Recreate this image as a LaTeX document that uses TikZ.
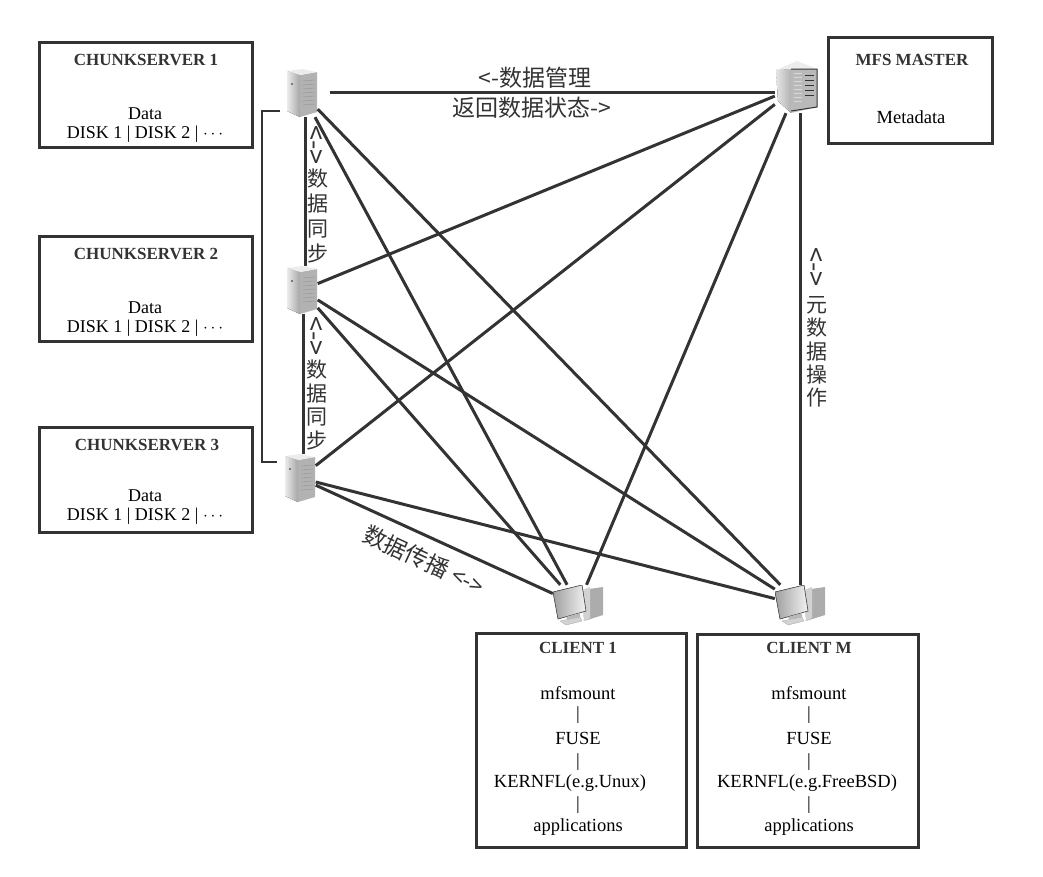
\documentclass[tikz,border=0pt]{standalone}
\usepackage{fontspec}
\setmainfont{Liberation Serif}
\newfontfamily\cjk{Noto Sans CJK SC}
\usetikzlibrary{positioning}
\definecolor{inkc}{gray}{0.2}
\tikzset{
    %box round one machine
    wn/.style={draw=inkc, line width=3pt, fill=white, shape=rectangle, inner sep=0pt},
    ttl/.style={font=\fontsize{17}{19}\selectfont\bfseries, text=inkc, inner sep=0pt},
    txt/.style={font=\fontsize{18.5}{19}\selectfont, text=black, inner sep=0pt, align=center},
    disk/.style={txt, font=\fontsize{18}{19}\selectfont},
    cn/.style={font=\cjk\fontsize{23}{26}\selectfont, text=inkc, inner sep=0pt},
    cnv/.style={cn, align=center, font=\cjk\fontsize{21}{#1}\selectfont},
    cna/.style={cn, rotate=-90, font=\cjk\fontsize{27}{27}\selectfont},
    link/.style={draw=inkc, line width=3pt},
    srv/.style={shape=rectangle, inner sep=0pt, minimum width=31pt, minimum height=48pt,
      path picture={
        \begin{scope}[shift={(path picture bounding box.center)}]
          \fill[left color=gray!15, right color=gray!70] (-15,-22) -- (-2,-18) -- (-2,24) -- (-15,18) -- cycle;
          \fill[gray!60] (-2,-18) -- (15,-21) -- (15,19) -- (-2,24) -- cycle;
          \fill[gray!15] (-15,-22) -- (0,-24) -- (15,-21) -- (-2,-18) -- cycle;
          \foreach \k in {-12,-8,...,14} \draw[gray!80, line width=0.5pt] (1,\k) -- (13,\k-1);
          \fill[gray!70!black] (-10,-9) circle (1.2);
        \end{scope}}},
    mst/.style={shape=rectangle, inner sep=0pt, minimum width=44pt, minimum height=52pt,
      path picture={
        \begin{scope}[shift={(path picture bounding box.center)}]
          \fill[left color=gray!20, right color=gray!60] (-21,-17) -- (-6,-18) -- (-6,26) -- (-19,14) -- cycle;
          \fill[gray!55] (-6,-18) -- (20,-18) -- (20,20) -- (-6,26) -- cycle;
          \fill[gray!15] (-21,-17) -- (0,-26) -- (20,-18) -- (-6,-18) -- cycle;
          \draw[inkc, line width=1pt] (-6,-18) -- (20,-18) -- (20,20) -- (-6,24);
          \foreach \k in {-12,-7,...,8} \draw[inkc, line width=1pt] (8,\k) -- (17,\k);
          \foreach \k in {-14,-10,...,16} \draw[gray!30, line width=0.5pt] (-3,\k) -- (5,\k);
        \end{scope}}},
    clnt/.style={shape=rectangle, inner sep=0pt, minimum width=50pt, minimum height=40pt,
      path picture={
        \begin{scope}[shift={(path picture bounding box.center)}]
          \fill[gray!65] (4,-15) -- (25,-18) -- (25,10) -- (6,16) -- cycle;
          \fill[gray!35] (4,-15) -- (12,-18) -- (12,13) -- (6,16) -- cycle;
          \fill[left color=gray!75, right color=gray!10, draw=gray!60!black, line width=0.6pt]
             (-25,-13) -- (4,-20) -- (8,6) -- (-20,14) -- cycle;
          \fill[gray!55] (-12,12) -- (2,8) -- (2,13) -- (-10,16) -- cycle;
          \fill[gray!35, draw=gray!60, line width=0.4pt] (-18,16) -- (2,12) -- (4,16) -- (-12,20) -- cycle;
        \end{scope}}},
}
\begin{document}
\begin{tikzpicture}[x=1pt, y=-1pt]
    \useasboundingbox (0,0) rectangle (1043,876);

    % machine boxes
    \node [wn, minimum width=213pt, minimum height=105pt] (box1) at (145.5,95) {};
    \node [wn, minimum width=213pt, minimum height=105pt] (box2) at (145.5,288.5) {};
    \node [wn, minimum width=213pt, minimum height=105pt] (box3) at (146,480) {};
    \node [wn, minimum width=164pt, minimum height=106pt] (boxm) at (910,90) {};
    \node [wn, minimum width=210pt, minimum height=214pt] (boxc1) at (581,740) {};
    \node [wn, minimum width=221pt, minimum height=213pt] (boxcm) at (807.5,740.5) {};

    % icons
    \node [srv] (s1) at (302,93) {};
    \node [srv] (s2) at (302,290) {};
    \node [srv] (s3) at (300,478) {};
    \node [mst] (master) at (797,87) {};
    \node [clnt] (c1) at (578,605) {};
    \node [clnt] (cm) at (800,605) {};

    \path[link] (s1) edge (c1)
                (s1) edge (cm)
                (s2) edge (master)
                (s2) edge (c1)
                (s2) edge (cm)
                (s3) edge (master)
                (s3) edge (c1)
                (s3) edge (cm)
                (master) edge (c1);
    \draw[link, shorten <=12pt] (s1.east |- 0,92) -- (master.west |- 0,92);
    \draw[link] ([xshift=3pt]s1.south) -- ([xshift=3pt]s2.north);
    \draw[link] ([xshift=1pt]s2.south) -- ([xshift=3pt]s3.north);
    \draw[link] ([xshift=3pt]master.south) -- (cm.north);

    % bracket on the left
    \coordinate (brtop) at (280,111);
    \coordinate (brbot) at (277,462);
    \draw[draw=inkc, line width=2pt] (brtop) -- (262,111) |- (brbot);

    % box texts
    \node [ttl] (t1) at (146,60) {CHUNKSERVER 1};
    \node [disk] (d1) at (145,125.5) {Data\\DISK 1 | DISK 2 | $\cdots$};
    \node [ttl] (t2) at (146,254) {CHUNKSERVER 2};
    \node [disk] (d2) at (145,319) {Data\\DISK 1 | DISK 2 | $\cdots$};
    \node [ttl] (t3) at (147,445) {CHUNKSERVER 3};
    \node [disk] (d3) at (145,507.5) {Data\\DISK 1 | DISK 2 | $\cdots$};
    \node [ttl] (tm) at (912,60) {MFS MASTER};
    \node [txt] (dm) at (911,117) {Metadata};

    \node [ttl] (tc1) at (578,648) {CLIENT 1};
    \node [txt] (mc1) at (578,693) {mfsmount};
    \node [txt] (bc1) at (578,715) {|};
    \node [txt] (fc1) at (578,738) {FUSE};
    \node [txt] (gc1) at (578,762) {|};
    \node [txt] (kc1) at (570,783) {KERNFL(e.g.Unux)};
    \node [txt] (hc1) at (578,805) {|};
    \node [txt] (ac1) at (578,827) {applications};

    \node [ttl] (tcm) at (809,648) {CLIENT M};
    \node [txt] (mcm) at (809,693) {mfsmount};
    \node [txt] (bcm) at (809,715) {|};
    \node [txt] (fcm) at (809,738) {FUSE};
    \node [txt] (gcm) at (809,762) {|};
    \node [txt] (kcm) at (807,783) {KERNFL(e.g.FreeBSD)};
    \node [txt] (hcm) at (809,805) {|};
    \node [txt] (acm) at (809,827) {applications};

    % link labels
    \node [cn] (mgmt) at (535,78) {<-数据管理};
    \node [cn] (state) at (532,108) {返回数据状态->};
    \node [cna] (ar1) at (315,145) {<->};
    \node [cnv=25] (sync1) at (318,216) {数\\据\\同\\步};
    \node [cna] (ar2) at (315,336) {<->};
    \node [cnv=23.5] (sync2) at (317,405) {数\\据\\同\\步};
    \node [cna] (ar3) at (815,267) {<->};
    \node [cnv=23.3] (meta) at (817,352) {元\\数\\据\\操\\作};
    \node [cn, rotate=-25] (spread) at (424,560) {数据传播 <->};
\end{tikzpicture}
\end{document}
